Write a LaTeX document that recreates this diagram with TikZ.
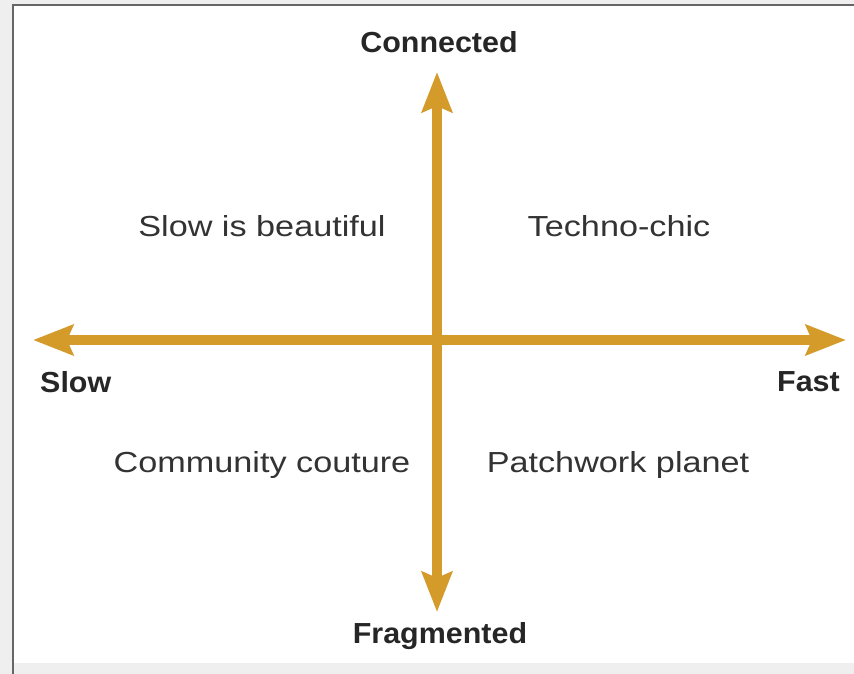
\documentclass[tikz,border=0pt]{standalone}
\usepackage{fontspec}
\setmainfont{Liberation Sans}
\newfontfamily\quadfont[FakeStretch=1.18]{Liberation Sans}
\newfontfamily\endfont[FakeStretch=1.05]{Liberation Sans}
\usetikzlibrary{arrows.meta}

\definecolor{axisgold}{RGB}{212,154,42}
\definecolor{pagegray}{RGB}{239,239,239}

\tikzset{
	axis line/.style = {
		draw = axisgold,
		line width = 10pt,
		-{Stealth[length=40pt,width=30pt,inset=6pt]},
		shorten >= 0pt
	},
	end label/.style = {
		font = \endfont\fontsize{29}{32}\selectfont\bfseries,
		text = black!85,
		inner sep = 0pt
	},
	quad label/.style = {
		font = \quadfont\fontsize{29}{32}\selectfont,
		text = black!80,
		inner sep = 0pt
	}
}

\begin{document}
\begin{tikzpicture}[x=1pt,y=-1pt]
	\useasboundingbox (0,0) rectangle (854,674);
	\fill[pagegray] (0,0) rectangle (854,674);
	\fill[white] (13,5) rectangle (854,663);
	\draw[black!60, line width=2pt] (13,674) -- (13,5) -- (854,5);

	\coordinate (o) at (437,340);
	\coordinate (up) at (437,72);
	\coordinate (down) at (437,612);
	\coordinate (left) at (33,340);
	\coordinate (right) at (846,340);

	\draw[axis line] (o) -- (up);
	\draw[axis line] (o) -- (down);
	\draw[axis line] (o) -- (left);
	\draw[axis line] (o) -- (right);

	\node at (439,42)  [end label] (conn) {Connected};
	\node at (440,636) [end label] (frag) {Fragmented};
	\node at (40,382)  [end label, anchor=west] (slow) {Slow};
	\node at (840,382) [end label, anchor=east] (fast) {Fast};

	\node at (262,226) [quad label] (sib) {Slow is beautiful};
	\node at (619,226) [quad label] (tc)  {Techno-chic};
	\node at (262,465) [quad label] (cc)  {Community couture};
	\node at (618,465) [quad label] (pp)  {Patchwork planet};
\end{tikzpicture}
\end{document}
